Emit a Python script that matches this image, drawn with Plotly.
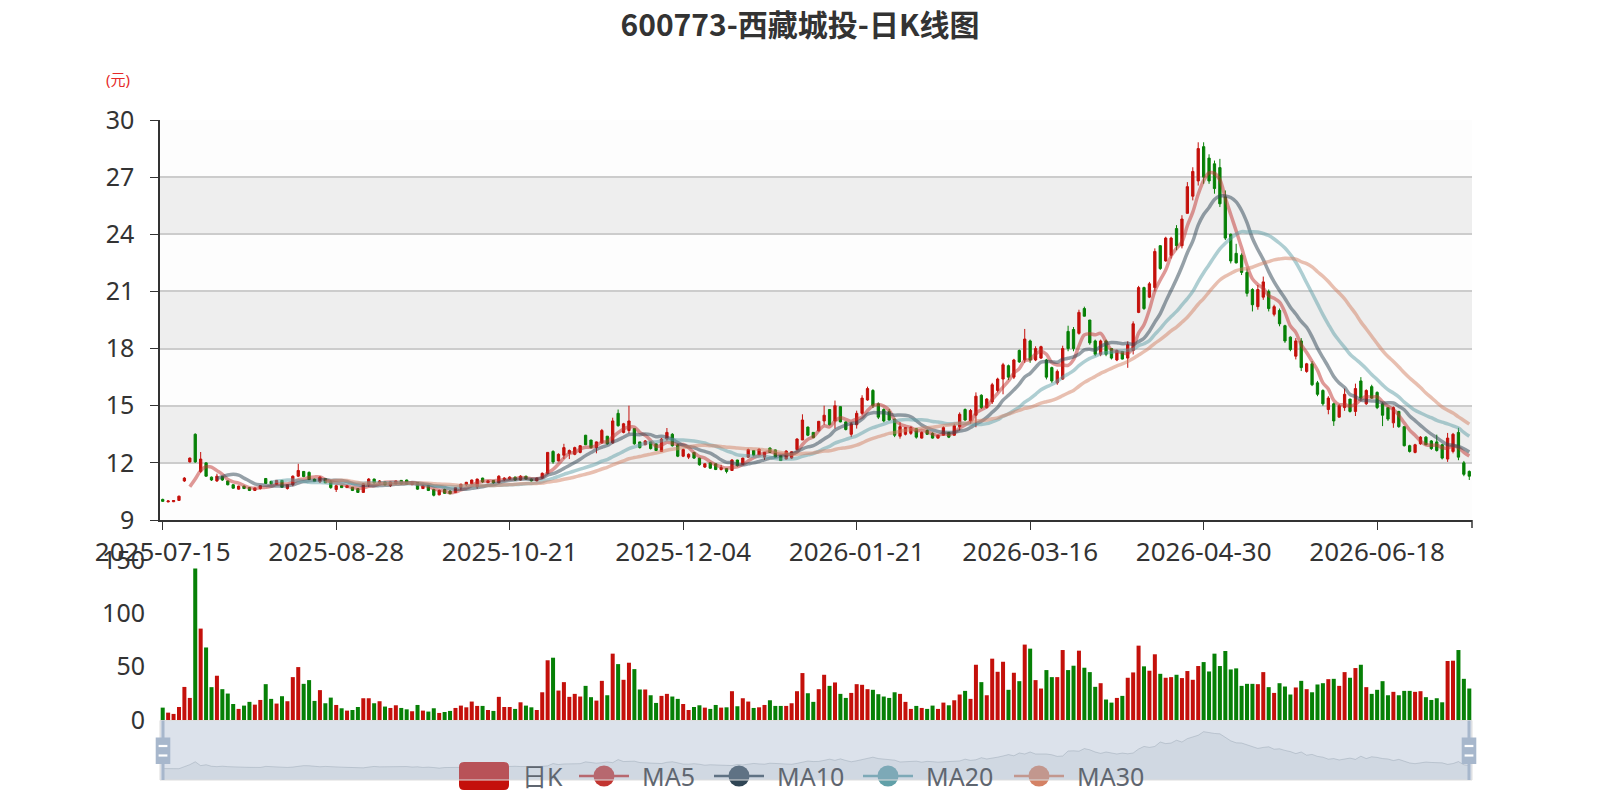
import pandas as pd
import plotly.graph_objects as go

titulo = "600773-西藏城投-日K线图"

# exchange holidays inside the period (used only to build the trading-day axis)
feriados = ['2025-10-01', '2025-10-02', '2025-10-03', '2025-10-06', '2025-10-07', '2025-10-08',
            '2026-01-01', '2026-01-02', '2026-02-16', '2026-02-17', '2026-02-18', '2026-02-19',
            '2026-02-20', '2026-02-23', '2026-04-06', '2026-05-01', '2026-05-04', '2026-05-05',
            '2026-06-19']

aperturas = [10.08, 9.95, 9.96, 10.03, 11.05, 12.05, 13.50, 11.55, 12.00, 11.25,
             11.05, 11.28, 11.05, 10.85, 10.62, 10.78, 10.70, 10.55, 10.65, 11.18,
             11.03, 10.88, 11.08, 10.65, 10.85, 11.30, 11.55, 11.50, 11.15, 11.00,
             11.17, 11.00, 10.60, 10.80, 10.70, 10.72, 10.65, 10.45, 10.85, 11.15,
             10.95, 11.00, 10.80, 10.90, 11.08, 11.10, 10.85, 10.97, 10.65, 10.82,
             10.60, 10.32, 10.60, 10.52, 10.45, 10.70, 10.85, 10.90, 10.75, 11.20,
             10.96, 11.08, 10.95, 11.12, 11.15, 11.25, 11.10, 11.30, 11.15, 11.05,
             11.20, 11.45, 12.60, 12.10, 12.40, 12.50, 12.45, 12.55, 13.45, 13.20,
             12.80, 13.05, 13.40, 13.05, 14.60, 13.60, 13.70, 13.80, 13.10, 12.95,
             13.10, 13.00, 12.60, 13.25, 13.50, 12.95, 12.35, 12.30, 12.55, 12.25,
             11.78, 12.00, 11.95, 11.65, 11.70, 11.60, 12.15, 11.92, 12.30, 12.65,
             12.42, 12.30, 12.78, 12.68, 12.38, 12.20, 12.25, 12.70, 13.20, 13.88,
             13.60, 13.68, 14.20, 14.80, 14.20, 14.95, 14.15, 13.50, 14.00, 14.60,
             15.30, 15.80, 15.10, 14.80, 14.70, 14.30, 13.40, 13.50, 13.55, 13.80,
             13.30, 13.70, 13.55, 13.30, 13.45, 13.60, 13.45, 13.90, 14.80, 14.20,
             14.50, 15.55, 14.90, 15.20, 15.80, 16.40, 17.10, 16.50, 17.90, 17.40,
             18.40, 17.40, 17.50, 17.40, 17.00, 16.20, 16.40, 18.90, 19.00, 18.80,
             20.10, 19.50, 18.40, 17.70, 18.40, 18.00, 17.40, 17.85, 17.50, 17.90,
             19.90, 21.20, 20.70, 21.20, 23.40, 22.60, 22.90, 24.30, 23.40, 25.10,
             26.00, 26.80, 28.60, 28.00, 27.70, 27.50, 25.96, 24.00, 23.00, 22.90,
             22.00, 21.10, 20.20, 20.70, 21.00, 19.80, 20.00, 19.20, 18.60, 17.60,
             18.40, 16.80, 17.20, 16.20, 15.80, 14.80, 15.10, 14.40, 14.90, 15.35,
             14.70, 16.30, 15.10, 16.00, 15.70, 15.10, 14.90, 14.10, 14.70, 13.90,
             12.90, 12.55, 13.00, 13.35, 13.15, 13.10, 12.95, 12.20, 12.60, 13.60,
             12.00, 11.55]

cierres = [9.98, 10.00, 10.02, 10.25, 11.20, 12.25, 12.05, 12.20, 11.30, 11.10,
           11.30, 11.10, 10.85, 10.67, 10.78, 10.65, 10.55, 10.68, 10.80, 10.92,
           10.90, 11.08, 10.72, 10.85, 11.30, 11.60, 11.28, 11.12, 11.02, 11.25,
           10.95, 10.70, 10.80, 10.70, 10.80, 10.55, 10.45, 10.90, 11.15, 10.95,
           11.05, 10.85, 11.00, 11.05, 10.90, 10.88, 10.97, 10.62, 10.80, 10.55,
           10.30, 10.55, 10.40, 10.38, 10.70, 10.88, 10.98, 11.10, 11.15, 11.00,
           11.06, 10.95, 11.30, 11.20, 11.25, 11.10, 11.30, 11.15, 11.05, 11.20,
           11.45, 12.55, 12.05, 12.45, 12.80, 12.65, 12.80, 12.90, 12.95, 12.80,
           13.10, 13.70, 13.00, 14.20, 13.95, 14.05, 14.20, 13.00, 12.80, 13.15,
           12.75, 12.65, 13.25, 13.60, 12.90, 12.35, 12.70, 12.45, 12.25, 11.90,
           11.95, 11.72, 11.65, 11.75, 11.55, 12.15, 11.85, 12.25, 12.70, 12.40,
           12.72, 12.55, 12.55, 12.30, 12.12, 12.62, 12.58, 13.25, 14.25, 13.45,
           13.32, 14.18, 14.50, 14.00, 15.00, 14.15, 13.75, 14.05, 14.60, 15.40,
           15.90, 15.00, 14.40, 14.20, 14.25, 13.45, 13.90, 13.85, 13.85, 13.35,
           13.60, 13.50, 13.30, 13.45, 13.85, 13.35, 13.95, 14.55, 14.25, 14.75,
           15.50, 14.90, 15.35, 16.10, 16.40, 17.15, 16.50, 17.40, 17.30, 18.50,
           17.40, 18.00, 18.10, 16.50, 16.30, 16.80, 18.00, 18.00, 18.00, 19.90,
           19.70, 18.30, 17.70, 18.40, 17.70, 17.50, 17.90, 17.45, 18.20, 19.30,
           21.20, 20.10, 21.40, 23.10, 22.20, 23.80, 23.80, 23.40, 24.80, 26.50,
           27.30, 28.50, 27.00, 26.80, 26.40, 25.60, 23.80, 22.60, 22.50, 22.00,
           20.90, 20.30, 21.10, 21.50, 20.10, 20.20, 19.30, 18.40, 17.95, 18.40,
           17.00, 17.20, 16.10, 15.60, 15.10, 15.40, 14.20, 15.00, 15.60, 14.70,
           15.90, 15.40, 15.80, 15.40, 14.90, 14.50, 14.30, 14.90, 13.90, 12.90,
           12.60, 12.95, 13.35, 12.95, 12.75, 12.65, 12.25, 13.30, 13.50, 12.30,
           11.40, 11.30]

minimos = [9.95, 9.93, 9.94, 10.00, 11.00, 12.02, 12.00, 11.47, 11.28, 11.05,
           11.00, 11.05, 10.82, 10.65, 10.60, 10.63, 10.52, 10.52, 10.60, 10.90,
           10.87, 10.87, 10.70, 10.60, 10.77, 11.25, 11.25, 11.10, 11.00, 10.94,
           10.94, 10.64, 10.47, 10.68, 10.69, 10.52, 10.43, 10.42, 10.73, 10.90,
           10.90, 10.82, 10.73, 10.89, 10.87, 10.86, 10.84, 10.59, 10.65, 10.52,
           10.24, 10.30, 10.38, 10.35, 10.42, 10.56, 10.78, 10.85, 10.64, 10.94,
           10.94, 10.90, 10.92, 11.05, 11.10, 11.05, 11.08, 11.12, 11.02, 11.02,
           11.15, 11.40, 11.95, 12.08, 12.20, 12.20, 12.40, 12.50, 12.93, 12.75,
           12.50, 13.00, 12.95, 13.00, 13.90, 13.55, 13.55, 12.95, 12.75, 12.93,
           12.70, 12.63, 12.57, 13.17, 12.85, 12.30, 12.30, 12.20, 12.20, 11.85,
           11.73, 11.68, 11.62, 11.60, 11.45, 11.58, 11.80, 11.90, 12.27, 12.34,
           12.40, 12.16, 12.52, 12.27, 12.10, 12.18, 12.20, 12.66, 13.20, 13.40,
           13.30, 13.65, 14.00, 13.96, 13.80, 14.13, 13.70, 13.35, 13.80, 14.50,
           15.26, 14.88, 14.30, 14.13, 14.20, 13.35, 13.27, 13.44, 13.47, 13.27,
           13.27, 13.47, 13.27, 13.27, 13.44, 13.30, 13.44, 13.70, 14.20, 14.05,
           13.87, 14.83, 14.85, 15.09, 15.70, 15.60, 16.35, 16.40, 17.25, 17.25,
           17.25, 17.34, 17.45, 16.38, 16.20, 16.10, 16.35, 17.86, 17.86, 18.73,
           19.69, 18.20, 17.60, 17.60, 17.60, 17.43, 17.34, 17.43, 16.99, 17.69,
           19.86, 20.03, 20.65, 21.00, 22.13, 22.56, 22.73, 23.17, 23.26, 25.09,
           25.78, 26.56, 26.65, 26.65, 26.13, 25.43, 23.70, 22.47, 22.47, 21.86,
           20.73, 19.95, 20.04, 20.56, 19.95, 19.69, 19.17, 18.30, 17.86, 17.43,
           16.82, 16.73, 16.03, 15.50, 15.00, 14.55, 13.94, 14.38, 14.73, 14.64,
           14.46, 15.27, 15.04, 15.36, 14.82, 13.93, 14.20, 13.84, 13.84, 12.86,
           12.54, 12.50, 12.95, 12.93, 12.68, 12.59, 12.18, 12.05, 12.50, 12.14,
           11.30, 11.10]

maximos = [10.12, 10.03, 10.04, 10.28, 11.25, 12.28, 13.55, 12.57, 12.02, 11.28,
           11.43, 11.30, 11.07, 10.88, 10.80, 10.80, 10.73, 10.70, 10.82, 11.20,
           11.05, 11.10, 11.10, 10.87, 11.34, 11.95, 11.57, 11.55, 11.17, 11.30,
           11.18, 11.08, 10.85, 10.82, 10.81, 10.73, 10.68, 10.94, 11.20, 11.17,
           11.10, 11.00, 11.03, 11.06, 11.10, 11.12, 10.98, 10.98, 10.85, 10.85,
           10.64, 10.60, 10.64, 10.56, 10.73, 10.90, 11.00, 11.12, 11.17, 11.22,
           11.08, 11.10, 11.35, 11.25, 11.30, 11.28, 11.35, 11.32, 11.18, 11.22,
           11.50, 12.57, 12.66, 12.50, 13.00, 12.70, 12.85, 12.93, 13.47, 13.20,
           13.12, 13.78, 13.40, 14.37, 14.80, 14.10, 15.00, 13.80, 13.10, 13.20,
           13.10, 13.02, 13.30, 13.83, 13.56, 13.00, 12.75, 12.50, 12.57, 12.27,
           11.98, 12.04, 11.98, 11.90, 11.72, 12.20, 12.16, 12.27, 12.75, 12.66,
           12.75, 12.57, 12.80, 12.70, 12.40, 12.66, 12.60, 13.30, 14.55, 13.90,
           13.60, 14.20, 15.00, 14.82, 15.27, 14.97, 14.17, 14.13, 14.74, 15.55,
           16.00, 15.87, 15.17, 14.86, 14.83, 14.30, 14.13, 13.87, 13.92, 13.82,
           13.65, 13.75, 13.60, 13.47, 13.92, 13.60, 14.05, 14.65, 14.86, 14.83,
           15.70, 15.60, 15.40, 16.20, 16.47, 17.25, 17.16, 17.46, 17.95, 19.03,
           18.47, 18.12, 18.15, 17.46, 17.05, 16.90, 18.15, 19.20, 19.13, 20.04,
           20.20, 19.50, 18.47, 18.47, 18.47, 18.03, 17.95, 17.86, 18.38, 19.43,
           21.29, 21.25, 21.50, 23.26, 23.43, 23.87, 23.87, 24.48, 25.00, 26.74,
           27.52, 28.83, 28.83, 28.20, 27.87, 27.96, 26.30, 24.04, 23.50, 23.00,
           22.20, 21.17, 21.34, 21.78, 21.10, 20.30, 20.10, 19.25, 18.64, 18.55,
           18.55, 17.25, 17.34, 16.30, 15.86, 15.50, 15.16, 15.08, 15.90, 15.36,
           16.16, 16.50, 15.86, 16.10, 15.75, 15.18, 14.90, 14.96, 14.73, 13.90,
           12.95, 13.00, 13.40, 13.40, 13.20, 13.48, 13.00, 13.57, 13.57, 13.84,
           12.10, 11.60]

volumenes = [11.6, 6.9, 5.7, 12.2, 31.0, 20.7, 142.0, 85.7, 68.0, 30.8,
             41.5, 28.9, 24.8, 15.0, 10.4, 13.5, 17.0, 14.4, 18.8, 33.6,
             19.8, 15.4, 22.3, 17.6, 40.2, 49.6, 33.9, 37.4, 17.9, 28.0,
             15.7, 21.0, 14.1, 11.0, 8.8, 9.4, 12.2, 20.4, 20.4, 15.7,
             17.6, 12.6, 11.3, 13.8, 11.3, 10.0, 8.2, 14.1, 8.8, 7.9,
             11.0, 6.6, 7.5, 8.5, 11.3, 13.5, 11.9, 17.3, 13.2, 13.2,
             9.4, 8.5, 21.7, 12.2, 12.2, 10.4, 16.6, 13.5, 11.9, 9.4,
             26.0, 56.0, 58.4, 27.6, 35.5, 21.7, 24.5, 22.0, 32.0, 21.4,
             18.2, 36.7, 23.2, 62.2, 52.4, 37.7, 53.7, 47.7, 28.6, 28.6,
             23.2, 16.0, 22.6, 24.5, 22.0, 19.8, 15.0, 9.4, 12.2, 13.8,
             11.6, 10.4, 14.1, 11.6, 11.9, 27.0, 12.9, 20.4, 17.3, 11.3,
             11.9, 14.1, 18.5, 13.2, 13.2, 13.2, 15.7, 27.0, 44.0, 25.1,
             17.0, 28.9, 42.4, 32.0, 35.2, 24.5, 20.7, 25.4, 33.6, 33.0,
             28.9, 28.3, 24.2, 22.0, 20.7, 26.0, 24.5, 17.0, 10.4, 13.2,
             11.3, 10.4, 13.5, 10.4, 16.3, 13.8, 18.5, 23.9, 27.3, 19.8,
             51.8, 35.5, 23.2, 57.5, 45.2, 54.6, 28.3, 44.3, 36.4, 70.7,
             66.9, 37.4, 29.5, 46.8, 40.2, 40.2, 65.6, 46.8, 50.9, 65.0,
             49.0, 44.9, 31.1, 34.5, 19.2, 16.3, 20.7, 22.6, 39.6, 44.6,
             69.7, 50.3, 46.2, 61.6, 43.3, 39.6, 40.2, 42.4, 39.3, 45.9,
             37.7, 50.6, 54.3, 45.5, 62.2, 50.6, 64.7, 47.4, 48.4, 32.0,
             33.9, 33.9, 33.6, 44.9, 30.8, 25.4, 34.5, 31.4, 23.9, 30.5,
             36.7, 28.9, 26.0, 33.3, 34.5, 38.3, 38.6, 32.0, 44.9, 39.6,
             48.7, 51.8, 30.8, 24.5, 28.3, 36.4, 23.2, 26.4, 23.2, 27.3,
             27.3, 26.4, 27.0, 21.4, 18.8, 20.4, 16.6, 55.3, 55.6, 65.6,
             38.6, 29.5]

periodos_ma = [5, 10, 20, 30]
colores_ma = ['#c23531', '#2f4554', '#61a0a8', '#d48265']
nombres_leyenda = ['日K', 'MA5', 'MA10', 'MA20', 'MA30']
color_sube = '#c4100b'
color_baja = '#068006'

fechas = pd.bdate_range('2025-07-15', '2026-07-31', freq='C', holidays=feriados)
fechas = [f.strftime('%Y-%m-%d') for f in fechas[:len(cierres)]]
ticks_x = fechas[::32]


def calcular_ma(n, valores):
    # same rule as the echarts demo: first n points are empty
    res = []
    for i in range(len(valores)):
        if i < n:
            res.append(None)
            continue
        res.append(sum(valores[i - j] for j in range(n)) / n)
    return res


# the page puts the figure 8px in from the top-left corner, so the figure is
# 8px smaller and every position below is given in window pixels
OFF = 8
W, H = 1600 - OFF, 800 - OFF


def px(x):
    return (x - OFF) / W


def py(y):
    return 1 - (y - OFF) / H


fuente = 'Noto Sans, Noto Sans CJK SC, sans-serif'

fig = go.Figure()

fig.add_trace(go.Candlestick(
    x=fechas, open=aperturas, high=maximos, low=minimos, close=cierres,
    increasing=dict(line=dict(color=color_sube, width=1), fillcolor=color_sube),
    decreasing=dict(line=dict(color=color_baja, width=1), fillcolor=color_baja),
    whiskerwidth=0, name='日K', showlegend=False, xaxis='x', yaxis='y'))

for n, c in zip(periodos_ma, colores_ma):
    fig.add_trace(go.Scatter(x=fechas, y=calcular_ma(n, cierres), mode='lines',
                             line=dict(color=c, width=3.5, shape='spline', smoothing=1),
                             opacity=0.5, name=f'MA{n}', showlegend=False,
                             xaxis='x', yaxis='y'))

colores_vol = [color_sube if cl >= op else color_baja for op, cl in zip(aperturas, cierres)]
fig.add_trace(go.Bar(x=fechas, y=volumenes, marker=dict(color=colores_vol, line=dict(width=0)),
                     width=0.74, showlegend=False, xaxis='x2', yaxis='y2'))

# data shadow inside the slider
fig.add_trace(go.Scatter(x=fechas, y=aperturas, mode='lines', fill='tozeroy',
                         line=dict(color='rgba(47,69,84,0.3)', width=0.8),
                         fillcolor='rgba(47,69,84,0.09)', showlegend=False,
                         xaxis='x3', yaxis='y3'))

lo, hi = min(aperturas), max(aperturas)
extra = (hi - lo) * 0.3

# grids: left 10%, right 8%
g_l, g_r = 160, 1472
dom_x = [px(g_l), px(g_r)]
rango_x = [-0.5, len(fechas) - 0.5]

shapes = []
# split areas of the price grid
bandas = list(range(9, 30, 3))
for k, b in enumerate(bandas):
    shapes.append(dict(type='rect', xref='x domain', yref='y', x0=0, x1=1, y0=b, y1=b + 3,
                       fillcolor='#fdfdfd' if k % 2 == 0 else '#eeeeee',
                       line=dict(width=0), layer='below'))

# closing tick at the right end of the date axis
shapes.append(dict(type='line', xref='paper', yref='paper', x0=px(g_r), x1=px(g_r),
                   y0=py(520), y1=py(528), line=dict(color='#333333', width=1.5)))

# legend drawn by hand (the slider sits over it)
leg_x = [459, 579, 714, 863, 1014]
leg_y = 776
ix0, ix1, iy0, iy1, r = leg_x[0], leg_x[0] + 50, 762, 790, 5
shapes.append(dict(type='path', xref='paper', yref='paper', layer='above',
                   path=(f'M {px(ix0 + r)},{py(iy0)} L {px(ix1 - r)},{py(iy0)} '
                         f'Q {px(ix1)},{py(iy0)} {px(ix1)},{py(iy0 + r)} '
                         f'L {px(ix1)},{py(iy1 - r)} Q {px(ix1)},{py(iy1)} {px(ix1 - r)},{py(iy1)} '
                         f'L {px(ix0 + r)},{py(iy1)} Q {px(ix0)},{py(iy1)} {px(ix0)},{py(iy1 - r)} '
                         f'L {px(ix0)},{py(iy0 + r)} Q {px(ix0)},{py(iy0)} {px(ix0 + r)},{py(iy0)} Z'),
                   fillcolor=color_sube, line=dict(width=0)))
for x0, c in zip(leg_x[1:], colores_ma):
    shapes.append(dict(type='line', xref='paper', yref='paper', layer='above',
                       x0=px(x0), x1=px(x0 + 50), y0=py(leg_y), y1=py(leg_y),
                       line=dict(color=c, width=2.5)))
    shapes.append(dict(type='circle', xref='paper', yref='paper', layer='above',
                       x0=px(x0 + 14.5), x1=px(x0 + 35.5), y0=py(leg_y - 10.5), y1=py(leg_y + 10.5),
                       fillcolor=c, line=dict(width=0)))

# slider: filler, border, handles
s_top, s_bot = 720.5, 780
shapes.append(dict(type='rect', xref='paper', yref='paper', layer='above',
                   x0=px(g_l), x1=px(g_r), y0=py(s_bot), y1=py(s_top),
                   fillcolor='rgba(167,183,204,0.4)', line=dict(color='#dddddd', width=1)))
for hx in [g_l + 3, g_r - 3]:
    shapes.append(dict(type='line', xref='paper', yref='paper', layer='above',
                       x0=px(hx), x1=px(hx), y0=py(s_bot), y1=py(s_top),
                       line=dict(color='#a7b7cc', width=3)))
    shapes.append(dict(type='rect', xref='paper', yref='paper', layer='above',
                       x0=px(hx - 7.3), x1=px(hx + 7.3), y0=py(764), y1=py(737.5),
                       fillcolor='#a7b7cc', line=dict(width=0)))
    for ly in [746, 755.5]:
        shapes.append(dict(type='line', xref='paper', yref='paper', layer='above',
                           x0=px(hx - 4.4), x1=px(hx + 4.4), y0=py(ly), y1=py(ly),
                           line=dict(color='#ffffff', width=2.2)))

annotations = [dict(text='(元)', xref='paper', yref='paper', x=px(118), y=py(79),
                    xanchor='center', yanchor='middle', showarrow=False,
                    font=dict(size=15, color='#e52a2a', family=fuente))]
for x0, t in zip(leg_x, nombres_leyenda):
    annotations.append(dict(text=t, xref='paper', yref='paper', x=px(x0 + 61), y=py(leg_y),
                            xanchor='left', yanchor='middle', showarrow=False,
                            font=dict(size=25, color='#5f6670', family=fuente)))

fig.update_layout(
    width=W, height=H,
    margin=dict(l=0, r=0, t=0, b=0, autoexpand=False),
    paper_bgcolor='white', plot_bgcolor='white',
    font=dict(family=fuente, color='#333333'),
    title=dict(text=titulo, x=px(800), xanchor='center', y=py(25), yanchor='middle',
               font=dict(size=30, color='#333333', weight='bold',
                         family='Noto Sans CJK SC, Noto Sans, sans-serif')),
    showlegend=False,
    boxgap=0.4,
    xaxis=dict(domain=dom_x, anchor='y', type='category', range=rango_x, automargin=False,
               tickmode='array', tickvals=ticks_x, ticktext=ticks_x,
               showline=True, linecolor='#333333', linewidth=1.5, ticks='outside',
               ticklen=8, tickcolor='#333333', tickfont=dict(size=26, color='#333333'),
               showgrid=False, rangeslider=dict(visible=False), fixedrange=True),
    yaxis=dict(domain=[py(520), py(120)], anchor='x', range=[9, 30], tick0=9, dtick=3,
               automargin=False,
               showline=True, linecolor='#333333', linewidth=1.5, ticks='outside',
               ticklen=8, tickcolor='#333333', tickfont=dict(size=25, color='#333333'),
               showgrid=True, gridcolor='#cccccc', gridwidth=1.5, zeroline=False,
               ticklabelstandoff=11),
    xaxis2=dict(domain=dom_x, anchor='y2', type='category', range=rango_x, automargin=False,
                showticklabels=False, showline=False, ticks='', showgrid=False),
    yaxis2=dict(domain=[py(720), py(560)], anchor='x2', range=[0, 150], automargin=False,
                tickvals=[0, 50, 100, 150], showline=False, showgrid=False, zeroline=False,
                tickfont=dict(size=25, color='#333333'), ticklabelstandoff=14),
    xaxis3=dict(domain=dom_x, anchor='y3', type='category', range=rango_x, visible=False,
                automargin=False),
    yaxis3=dict(domain=[py(s_bot), py(s_top)], anchor='x3', range=[lo - extra, hi + extra],
                visible=False, automargin=False),
    shapes=shapes,
    annotations=annotations,
)

fig.write_html("out.html")
